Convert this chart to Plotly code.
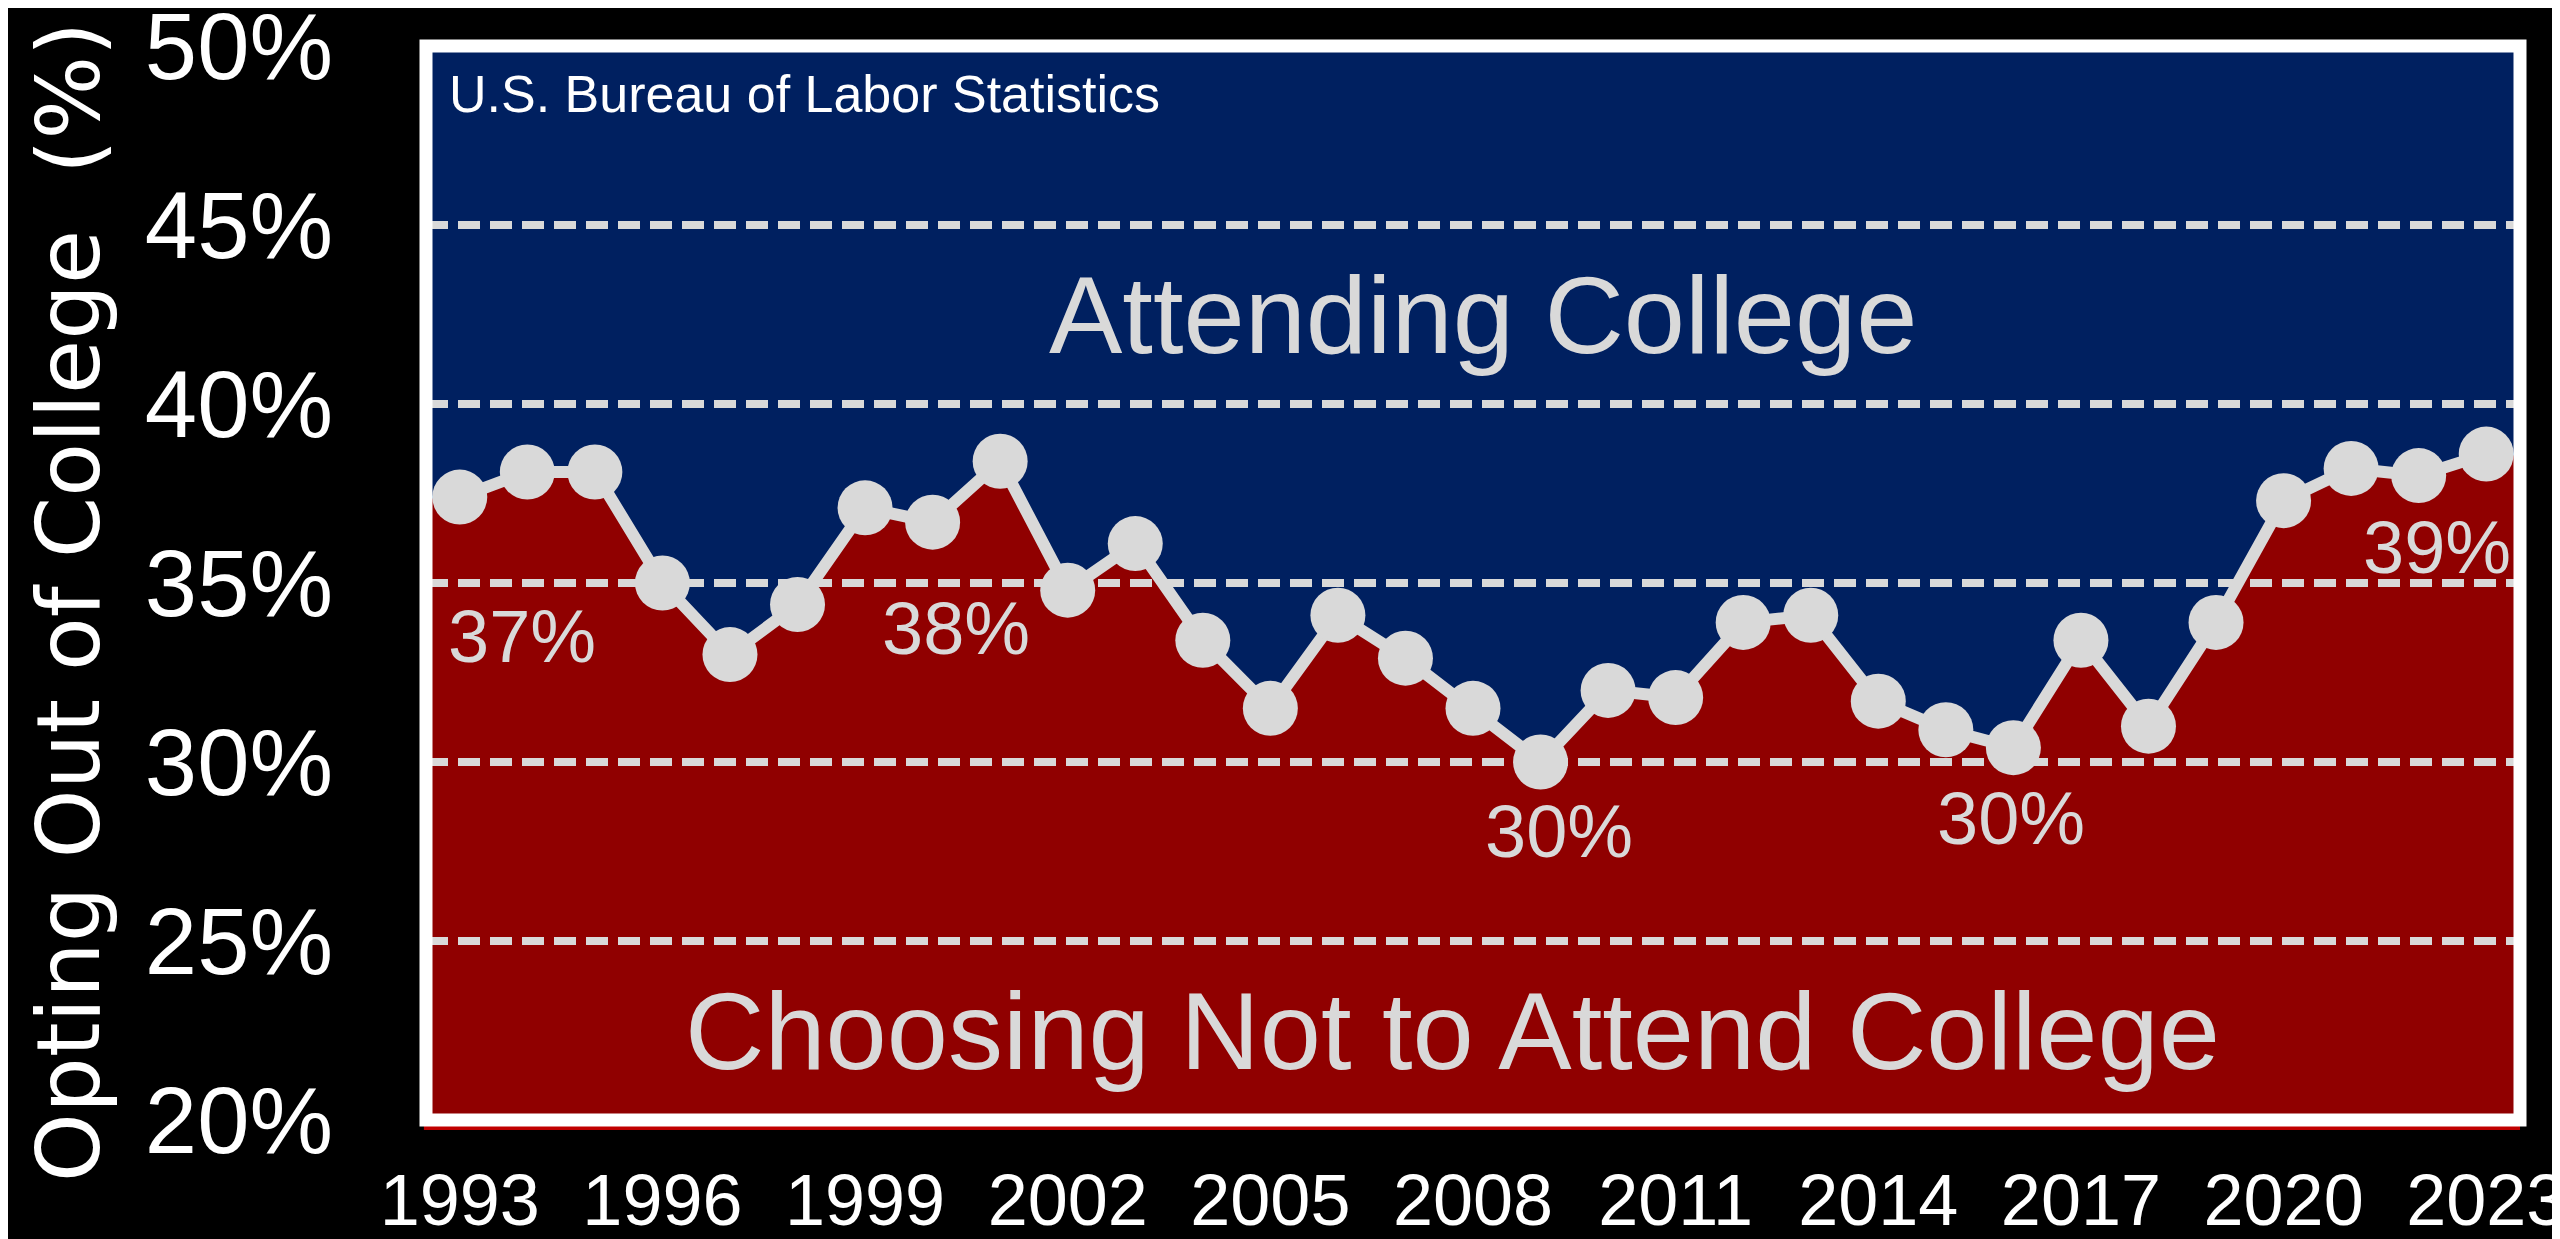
import plotly.graph_objects as go

# ---- data ----
years = list(range(1993, 2024))
opting_out = [37.4, 38.1, 38.1, 35.0, 33.0, 34.4, 37.1, 36.7, 38.4, 34.8,
              36.1, 33.4, 31.5, 34.1, 32.9, 31.5, 30.0, 32.0, 31.8, 33.9,
              34.1, 31.7, 30.9, 30.4, 33.4, 31.0, 33.9, 37.3, 38.2, 38.0, 38.6]
x_tick_years = list(range(1993, 2024, 3))
y_ticks = [20, 25, 30, 35, 40, 45, 50]
grid_values = [25, 30, 35, 40, 45]
label_years = [1993, 2001, 2009, 2016, 2023]
label_texts = ["37%", "38%", "30%", "30%", "39%"]

# ---- styles ----
BLUE = "#002060"
RED = "#900000"
GREY = "#d9d9d9"
FONT = "Liberation Sans, Arial, sans-serif"
X_RANGE = [1992.5, 2023.5]
Y_RANGE = [20, 50]
label_shifts = [(62, -139), (-44, -167), (18, -69), (-2, -71), (-49, -93)]

fig = go.Figure()

# red area (extended to the plot edges)
fig.add_trace(go.Scatter(
    x=[X_RANGE[0]] + years + [X_RANGE[1]],
    y=[opting_out[0]] + opting_out + [opting_out[-1]],
    mode="lines", fill="tozeroy", fillcolor=RED,
    line=dict(color="#0070c0", width=3), hoverinfo="skip", showlegend=False))

# dashed gridlines above the fills
for g in grid_values:
    fig.add_trace(go.Scatter(
        x=X_RANGE, y=[g, g], mode="lines",
        line=dict(color=GREY, width=8, dash="22px,10px"),
        hoverinfo="skip", showlegend=False))

# main line with markers
fig.add_trace(go.Scatter(
    x=years, y=opting_out, mode="lines+markers",
    line=dict(color=GREY, width=12),
    marker=dict(color=GREY, size=55, line=dict(width=0)),
    showlegend=False))

# value labels
for yr, txt, (dx, dy) in zip(label_years, label_texts, label_shifts):
    fig.add_annotation(x=yr, y=opting_out[years.index(yr)], text=txt,
                       showarrow=False, xanchor="center", yanchor="middle",
                       xshift=dx, yshift=dy,
                       font=dict(family=FONT, size=74, color=GREY))

# region labels
fig.add_annotation(x=0.505, xref="paper", y=42.5, text="Attending College",
                   showarrow=False, xanchor="center", yanchor="middle",
                   font=dict(family=FONT, size=110, color=GREY))
fig.add_annotation(x=0.49, xref="paper", y=22.5, text="Choosing Not to Attend College",
                   showarrow=False, xanchor="center", yanchor="middle",
                   font=dict(family=FONT, size=110, color=GREY))
fig.add_annotation(x=0.01, xref="paper", y=0.955, yref="paper",
                   text="U.S. Bureau of Labor Statistics",
                   showarrow=False, xanchor="left", yanchor="middle",
                   font=dict(family=FONT, size=52, color="white"))

# y-axis title
fig.add_annotation(x=-0.171, xref="paper", y=0.483, yref="paper",
                   text="Opting Out of College\u00a0\u00a0(%)", textangle=-90,
                   showarrow=False, xanchor="center", yanchor="middle",
                   font=dict(family="DejaVu Sans, sans-serif", size=88, color="white"))

# white frame and red shadow line
fig.add_shape(type="line", xref="paper", yref="paper", x0=-0.001, x1=1.0,
              y0=-0.0075, y1=-0.0075, line=dict(color="#c00000", width=4))
fig.add_shape(type="rect", xref="paper", yref="paper", x0=0, x1=1, y0=0, y1=1,
              line=dict(color="white", width=13), layer="above")

# figure is offset by the page's 8px body margin
fig.update_layout(
    width=2552, height=1231,
    margin=dict(l=418, r=40, t=38, b=119, autoexpand=False),
    paper_bgcolor="black", plot_bgcolor=BLUE,
    xaxis=dict(range=X_RANGE, tickvals=x_tick_years, ticktext=[str(v) for v in x_tick_years],
               showgrid=False, zeroline=False, showline=False, ticks="",
               automargin=False,
               ticklabelstandoff=32, ticklabeloverflow="allow",
               tickfont=dict(family=FONT, size=72, color="white")),
    yaxis=dict(range=Y_RANGE, tickvals=y_ticks, ticktext=[f"{v}%" for v in y_ticks],
               showgrid=False, zeroline=False, showline=False, ticks="",
               automargin=False,
               ticklabelstandoff=92, ticklabeloverflow="allow",
               tickfont=dict(family=FONT, size=94, color="white")),
)

fig.write_html("out.html")
